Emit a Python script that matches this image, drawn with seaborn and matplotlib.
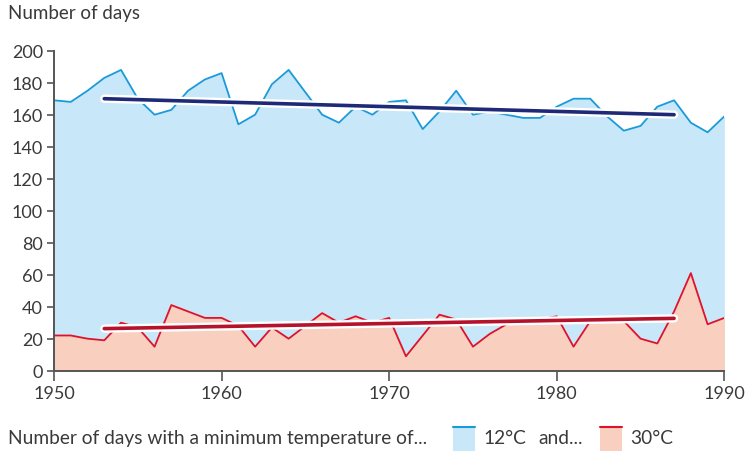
import matplotlib
matplotlib.use("Agg")
import matplotlib.pyplot as plt
import matplotlib.patheffects as pe
from matplotlib.patches import Rectangle
from matplotlib.lines import Line2D
import numpy as np
import pandas as pd
import seaborn as sns

years = list(range(1950, 1991))
days_12 = [169, 168, 175, 183, 188, 170, 160, 163, 175, 182,
           186, 154, 160, 179, 188, 174, 160, 155, 165, 160,
           168, 169, 151, 162, 175, 160, 162, 160, 158, 158,
           165, 170, 170, 159, 150, 153, 165, 169, 155, 149,
           159]
days_30 = [22, 22, 20, 19, 30, 27, 15, 41, 37, 33,
           33, 28, 15, 27, 20, 28, 36, 30, 34, 30,
           33, 9, 22, 35, 32, 15, 23, 29, 30, 32,
           34, 15, 31, 32, 31, 20, 17, 37, 61, 29,
           33]
trend_years = [1953, 1987]
trend_12 = [170, 160]
trend_30 = [26.3, 32.7]

blue_line = "#1a9ad9"
blue_fill = "#c8e7f8"
red_line = "#e0112b"
red_fill = "#f9d0bf"
navy = "#1e2a78"
dark_red = "#b5122c"
grey = "#3a3a3a"

sns.set_style("white")
plt.rcParams["font.family"] = ["Lato", "DejaVu Sans"]

df = pd.DataFrame({"year": years, "d12": days_12, "d30": days_30})
tr = pd.DataFrame({"year": trend_years, "t12": trend_12, "t30": trend_30})

fig = plt.figure(figsize=(7.46, 4.52), dpi=100)
ax = fig.add_axes([0.0724, 0.1777, 0.8986, 0.7079])

ax.fill_between(df["year"], 0, df["d12"], color=blue_fill, lw=0)
ax.fill_between(df["year"], 0, df["d30"], color=red_fill, lw=0)
sns.lineplot(data=df, x="year", y="d12", ax=ax, color=blue_line, lw=1.3)
sns.lineplot(data=df, x="year", y="d30", ax=ax, color=red_line, lw=1.3)

halo = [pe.Stroke(linewidth=6, foreground="white"), pe.Normal()]
sns.lineplot(data=tr, x="year", y="t12", ax=ax, color=navy, lw=2.6,
             path_effects=halo, solid_capstyle="round")
sns.lineplot(data=tr, x="year", y="t30", ax=ax, color=dark_red, lw=2.6,
             path_effects=halo, solid_capstyle="round")

ax.set_xlim(1950, 1990)
ax.set_ylim(0, 200)
ax.set_xticks(range(1950, 1991, 10))
ax.set_yticks(range(0, 201, 20))
ax.set_xlabel("")
ax.set_ylabel("")
for s in ["top", "right"]:
    ax.spines[s].set_visible(False)
for s in ["left", "bottom"]:
    ax.spines[s].set_color("#555555")
    ax.spines[s].set_linewidth(1.4)
ax.tick_params(axis="y", length=5, width=1.2, color="#555555",
               labelsize=13, labelcolor=grey, pad=3)
ax.tick_params(axis="x", length=7, width=1.2, color="#555555",
               labelsize=13, labelcolor=grey, pad=3)
ax.tick_params(left=True, bottom=True)

fig.text(8 / 746, 1 - 14 / 452, "Number of days", fontsize=13.5,
         color=grey, va="center", ha="left")

ly = 1 - 439 / 452
fig.text(8 / 746, ly, "Number of days with a minimum temperature of...",
         fontsize=13.8, color=grey, va="center", ha="left")
for x0, fc, ec, lab in [(453, blue_fill, blue_line, "12°C"),
                        (600, red_fill, red_line, "30°C")]:
    fig.patches.append(Rectangle((x0 / 746, 0), 22 / 746, 24 / 452,
                                 transform=fig.transFigure, facecolor=fc,
                                 edgecolor="none"))
    fig.lines.append(Line2D([x0 / 746, (x0 + 22) / 746], [24 / 452, 24 / 452],
                            transform=fig.transFigure, color=ec, lw=1.5))
    fig.text((x0 + 30) / 746, ly, lab, fontsize=13.8, color=grey,
             va="center", ha="left")
fig.text(538 / 746, ly, "and...", fontsize=13.8, color=grey,
         va="center", ha="left")

fig.savefig("out.png", dpi=100)
